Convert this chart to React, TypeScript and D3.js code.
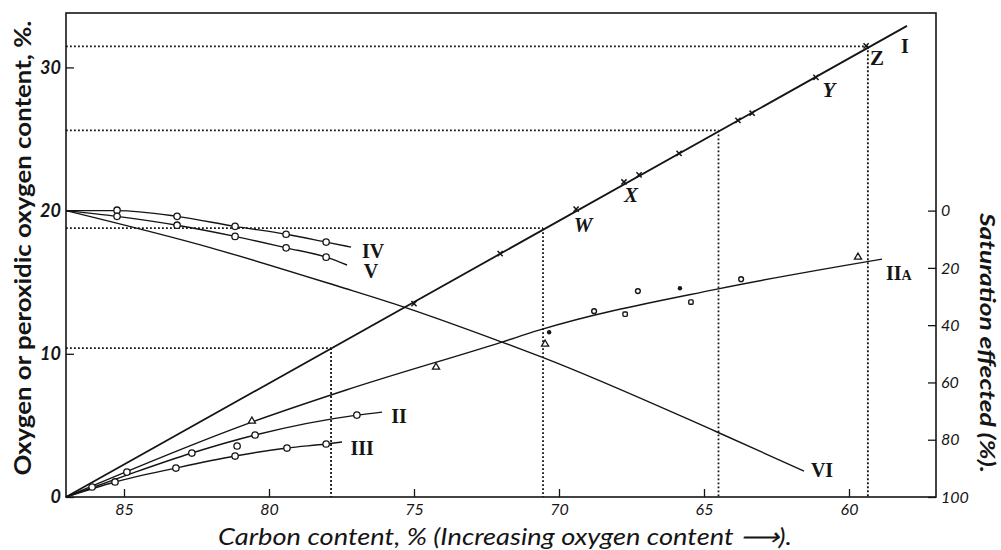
import { useEffect, useRef } from 'react';
import * as d3 from 'd3';

// [carbon %, oxygen %]
type Pt = [number, number];

const xTicks = [85, 80, 75, 70, 65, 60];
const yTicks = [0, 10, 20, 30];
const satTicks = [0, 20, 40, 60, 80, 100];

// Curve I (total oxygen) and the points plotted on it
const lineI: Pt[] = [[87, 0], [58, 32.9]];
const pointsI: Pt[] = [
  [75.0, 13.5], [72.03, 17.0], [69.41, 20.1], [67.76, 22.0], [67.24, 22.5],
  [65.86, 24.0], [63.83, 26.3], [63.34, 26.8], [61.14, 29.3], [59.41, 31.5],
];

// Dotted read-off guides
const guides: Pt[] = [[77.86, 10.4], [70.55, 18.77], [64.5, 25.6], [59.35, 31.47]];

// Curve IIA and its scattered points
const lineIIA: Pt[] = [
  [87, 0], [80.59, 5.23], [77.34, 7.47], [71.97, 10.82], [70.69, 11.65], [64.55, 14.52], [58.86, 16.61],
];
const iiaTriangles: Pt[] = [[80.59, 5.3], [74.24, 9.07], [70.48, 10.68], [59.69, 16.75]];
const iiaCircles: Pt[] = [[68.79, 12.98], [67.28, 14.38], [63.72, 15.21]];
const iiaSquares: Pt[] = [[67.72, 12.77], [65.45, 13.61]];
const iiaDots: Pt[] = [[70.34, 11.51], [65.83, 14.58]];

// Curve II
const lineII: Pt[] = [[87, 0], [84.9, 1.53], [82.66, 3.07], [80.48, 4.33], [76.97, 5.72], [76.1, 5.93]];
const pointsII: Pt[] = [[84.9, 1.74], [82.66, 3.07], [81.1, 3.56], [80.48, 4.33], [76.97, 5.72]];

// Curve III
const lineIII: Pt[] = [[87, 0], [85.31, 1.05], [83.21, 2.02], [81.17, 2.86], [79.38, 3.42], [78.03, 3.7], [77.48, 3.84]];
const pointsIII: Pt[] = [[86.1, 0.7], [85.31, 1.05], [83.21, 2.02], [81.17, 2.86], [79.38, 3.42], [78.03, 3.7]];

// Curves IV and V (peroxidic oxygen)
const lineIV: Pt[] = [[87, 20], [85.24, 20.0], [83.17, 19.6], [81.17, 18.9], [79.41, 18.35], [78.03, 17.8], [77.17, 17.45]];
const pointsIV: Pt[] = [[85.24, 20.03], [83.17, 19.6], [81.17, 18.9], [79.41, 18.35], [78.03, 17.8]];
const lineV: Pt[] = [[87, 20], [85.24, 19.6], [83.17, 18.98], [81.17, 18.2], [79.41, 17.4], [78.03, 16.75], [77.31, 16.2]];
const pointsV: Pt[] = [[85.24, 19.6], [83.17, 18.98], [81.17, 18.2], [79.41, 17.4], [78.03, 16.75]];

// Curve VI (saturation, read against the right axis)
const lineVI: Pt[] = [
  [87, 20], [82, 17.4], [77.59, 14.7], [75.34, 13.26], [71.97, 10.82], [70.59, 9.77], [64.55, 4.54], [61.55, 1.81],
];

const curveLabels: { text: string; c: number; o: number; kind: 'roman' | 'letter' | 'z' }[] = [
  { text: 'I', c: 58.07, o: 30.98, kind: 'roman' },
  { text: 'Z', c: 59.03, o: 30.15, kind: 'z' },
  { text: 'Y', c: 60.69, o: 27.9, kind: 'letter' },
  { text: 'X', c: 67.52, o: 20.6, kind: 'letter' },
  { text: 'W', c: 69.17, o: 18.5, kind: 'letter' },
  { text: 'IV', c: 76.41, o: 16.7, kind: 'roman' },
  { text: 'V', c: 76.48, o: 15.3, kind: 'roman' },
  { text: 'II', c: 75.52, o: 5.16, kind: 'roman' },
  { text: 'III', c: 76.79, o: 2.93, kind: 'roman' },
  { text: 'VI', c: 60.93, o: 1.4, kind: 'roman' },
];

export default function App() {
  const svgRef = useRef<SVGSVGElement>(null);

  useEffect(() => {
    if (!svgRef.current) return;
    document.body.style.margin = '0';

    const svg = d3.select(svgRef.current);
    svg.selectAll('*').remove();

    const ink = '#151515';
    const sans = 'Lato, "Open Sans", sans-serif';
    const serif = '"Liberation Serif", "DejaVu Serif", serif';

    const x = d3.scaleLinear().domain([87, 57]).range([66, 936]);
    const y = d3.scaleLinear().domain([0, 33.8]).range([497, 13]);
    const ySat = d3.scaleLinear().domain([0, 100]).range([y(20), y(0)]);

    const straight = d3.line<Pt>().x((d) => x(d[0])).y((d) => y(d[1]));
    const smooth = d3.line<Pt>().x((d) => x(d[0])).y((d) => y(d[1])).curve(d3.curveMonotoneX);

    // Dotted guides
    const gGuides = svg.append('g')
      .attr('stroke', ink)
      .attr('stroke-width', 1.8)
      .attr('stroke-dasharray', '1.8,2.2')
      .attr('fill', 'none');
    guides.forEach((d) => {
      gGuides.append('line')
        .attr('x1', x(87)).attr('x2', x(d[0]))
        .attr('y1', y(d[1])).attr('y2', y(d[1]));
      gGuides.append('line')
        .attr('x1', x(d[0])).attr('x2', x(d[0]))
        .attr('y1', y(d[1])).attr('y2', y(0));
    });

    // Frame
    svg.append('rect')
      .attr('x', x(87)).attr('y', y(33.8))
      .attr('width', x(57) - x(87)).attr('height', y(0) - y(33.8))
      .attr('fill', 'none').attr('stroke', ink).attr('stroke-width', 1.6);

    // Axes
    const gx = svg.append('g')
      .attr('transform', `translate(0,${y(0)})`)
      .call(d3.axisBottom(x).tickValues(xTicks).tickSize(-8).tickPadding(7).tickFormat((v) => `${v}`));
    const gy = svg.append('g')
      .attr('transform', `translate(${x(87)},0)`)
      .call(d3.axisLeft(y).tickValues(yTicks).tickSize(-8).tickPadding(5).tickFormat((v) => `${v}`));
    const gs = svg.append('g')
      .attr('transform', `translate(${x(57)},0)`)
      .call(d3.axisRight(ySat).tickValues(satTicks).tickSize(-8).tickPadding(5).tickFormat((v) => `${v}`));

    [gx, gy, gs].forEach((g) => {
      g.select('.domain').remove();
      g.selectAll('line').attr('stroke', ink).attr('stroke-width', 1.3);
      g.selectAll('text')
        .attr('fill', ink)
        .attr('font-family', sans)
        .attr('font-style', 'italic')
        .attr('font-size', 16);
    });
    gy.selectAll('text').attr('font-weight', 700).attr('font-size', 18);

    // Curves
    const gLines = svg.append('g').attr('fill', 'none').attr('stroke', ink);
    gLines.append('path').datum(lineI).attr('d', straight).attr('stroke-width', 1.8);
    [lineIIA, lineII, lineIII, lineIV, lineV, lineVI].forEach((l) => {
      gLines.append('path').datum(l).attr('d', smooth).attr('stroke-width', 1.4);
    });

    // Markers
    const gMarks = svg.append('g');
    const circles = [...pointsII, ...pointsIII, ...pointsIV, ...pointsV];
    gMarks.selectAll('circle.open')
      .data(circles)
      .enter().append('circle')
      .attr('cx', (d) => x(d[0])).attr('cy', (d) => y(d[1]))
      .attr('r', 3.2)
      .attr('fill', '#fff').attr('stroke', ink).attr('stroke-width', 1.3);

    gMarks.selectAll('circle.small')
      .data(iiaCircles)
      .enter().append('circle')
      .attr('cx', (d) => x(d[0])).attr('cy', (d) => y(d[1]))
      .attr('r', 2.4)
      .attr('fill', '#fff').attr('stroke', ink).attr('stroke-width', 1.4);

    gMarks.selectAll('rect.sq')
      .data(iiaSquares)
      .enter().append('rect')
      .attr('x', (d) => x(d[0]) - 2.2).attr('y', (d) => y(d[1]) - 2.2)
      .attr('width', 4.4).attr('height', 4.4).attr('rx', 1)
      .attr('fill', '#fff').attr('stroke', ink).attr('stroke-width', 1.4);

    gMarks.selectAll('circle.dot')
      .data(iiaDots)
      .enter().append('circle')
      .attr('cx', (d) => x(d[0])).attr('cy', (d) => y(d[1]))
      .attr('r', 2.2)
      .attr('fill', ink);

    const tri = d3.symbol().type(d3.symbolTriangle).size(22);
    gMarks.selectAll('path.tri')
      .data(iiaTriangles)
      .enter().append('path')
      .attr('d', tri)
      .attr('transform', (d) => `translate(${x(d[0])},${y(d[1])})`)
      .attr('fill', '#fff').attr('stroke', ink).attr('stroke-width', 1.3);

    gMarks.selectAll('path.cross')
      .data(pointsI)
      .enter().append('path')
      .attr('d', 'M-2.6,-2.6L2.6,2.6M-2.6,2.6L2.6,-2.6')
      .attr('transform', (d) => `translate(${x(d[0])},${y(d[1])})`)
      .attr('stroke', ink).attr('stroke-width', 1.5);

    // Curve labels
    svg.append('g')
      .selectAll('text')
      .data(curveLabels)
      .enter().append('text')
      .attr('x', (d) => x(d.c)).attr('y', (d) => y(d.o))
      .attr('text-anchor', 'middle')
      .attr('font-family', serif)
      .attr('font-weight', 700)
      .attr('font-style', (d) => (d.kind === 'letter' ? 'italic' : 'normal'))
      .attr('font-size', (d) => (d.kind === 'roman' ? 20 : 21))
      .attr('fill', ink)
      .text((d) => d.text);

    const iia = svg.append('text')
      .attr('x', x(58.28)).attr('y', y(15.14))
      .attr('text-anchor', 'middle')
      .attr('font-family', serif).attr('font-weight', 700).attr('font-size', 20)
      .attr('fill', ink);
    iia.append('tspan').text('II');
    iia.append('tspan').attr('font-size', 14).text('A');

    // Axis titles
    svg.append('text')
      .attr('transform', 'translate(31,248) rotate(-90)')
      .attr('text-anchor', 'middle')
      .attr('font-family', sans).attr('font-weight', 700).attr('font-size', 22)
      .attr('textLength', 455).attr('lengthAdjust', 'spacingAndGlyphs')
      .attr('fill', ink)
      .text('Oxygen or peroxidic oxygen content, %.');

    svg.append('text')
      .attr('transform', 'translate(980,343) rotate(90)')
      .attr('text-anchor', 'middle')
      .attr('font-family', sans).attr('font-style', 'italic').attr('font-weight', 700).attr('font-size', 21)
      .attr('textLength', 260).attr('lengthAdjust', 'spacingAndGlyphs')
      .attr('fill', ink)
      .text('Saturation effected (%).');

    svg.append('text')
      .attr('x', 505).attr('y', 545)
      .attr('text-anchor', 'middle')
      .attr('font-family', sans).attr('font-style', 'italic').attr('font-size', 24)
      .attr('textLength', 574).attr('lengthAdjust', 'spacingAndGlyphs')
      .attr('fill', ink)
      .text('Carbon content, % (Increasing oxygen content \u27F6).');
  }, []);

  return <svg ref={svgRef} width={1001} height={550} style={{ display: 'block', background: '#fff' }} />;
}
